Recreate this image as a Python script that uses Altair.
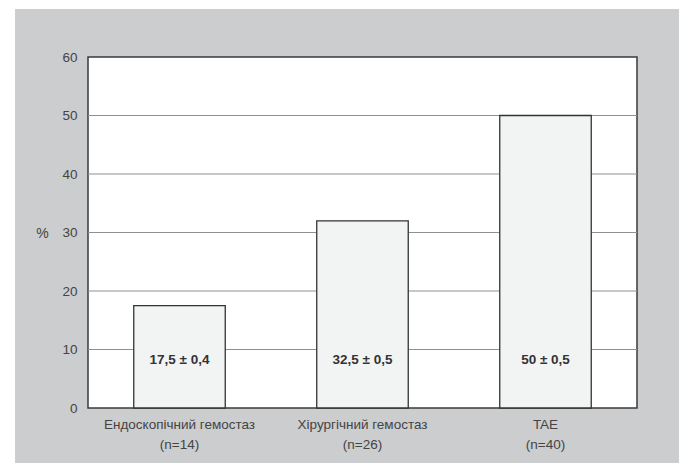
import altair as alt
import pandas as pd

# ---- data ----
groups = ["Ендоскопічний гемостаз", "Хірургічний гемостаз", "TAE"]
n_values = [14, 26, 40]
percent = [17.5, 32, 50]
bar_labels = ["17,5 ± 0,4", "32,5 ± 0,5", "50 ± 0,5"]
y_ticks = [0, 10, 20, 30, 40, 50, 60]
grid_values = [10, 20, 30, 40, 50]

df = pd.DataFrame({
    "group": [f"{g}|(n={n})" for g, n in zip(groups, n_values)],
    "percent": percent,
    "label": bar_labels,
})
grid_df = pd.DataFrame({"percent": grid_values})
one = pd.DataFrame({"a": [0]})

W, H = 549, 351
LEFT, TOP = 88, 57
GREY = "#cccdce"
FONT = "Liberation Sans"

yscale = alt.Scale(domain=[0, 60], nice=False, zero=True)
xscale = alt.Scale(paddingInner=0.5, paddingOuter=0.25)

x_axis = alt.Axis(title=None, labelAngle=0, labelExpr="split(datum.label, '|')",
                  labelFont=FONT, labelFontSize=13.5, labelColor="#444444",
                  labelLineHeight=20, labelPadding=16, labelBaseline="middle",
                  domain=False, ticks=False, grid=False, zindex=2)
y_axis = alt.Axis(title="%", values=y_ticks, titleAngle=0, titleX=-46, titleY=176,
                  titleAlign="center", titleBaseline="middle", titleFont=FONT,
                  titleFontSize=14, titleFontWeight="normal", titleColor="#444444",
                  labelFont=FONT, labelFontSize=13.5, labelColor="#444444",
                  labelPadding=11, domain=False, ticks=False, grid=False, zindex=2)

# decorative grey panel behind the figure
bg = alt.Chart(one).mark_rect(color=GREY).encode(
    x=alt.value(15 - LEFT), x2=alt.value(679 - LEFT + 5),
    y=alt.value(9 - TOP), y2=alt.value(463 - TOP),
)
# white plot panel with border
panel = alt.Chart(one).mark_rect(fill="white", stroke="#3a3a3a", strokeWidth=1.5).encode(
    x=alt.value(0), x2=alt.value(W), y=alt.value(0), y2=alt.value(H),
)
grid = alt.Chart(grid_df).mark_rule(color="#8f8f8f", strokeWidth=1.2).encode(
    y=alt.Y("percent:Q", scale=yscale, axis=y_axis),
)
bars = alt.Chart(df).mark_bar(fill="#f2f3f3", stroke="#333333", strokeWidth=1.3).encode(
    x=alt.X("group:N", sort=None, scale=xscale, axis=x_axis),
    y=alt.Y("percent:Q", scale=yscale, axis=y_axis),
)
texts = alt.Chart(df).mark_text(font=FONT, fontSize=13.5, fontWeight="bold", color="#333333",
                                baseline="middle").encode(
    x=alt.X("group:N", sort=None, scale=xscale, axis=x_axis),
    y=alt.value(H - 48),
    text="label:N",
)

chart = alt.layer(bg, panel, grid, bars, texts).properties(
    width=W, height=H,
    autosize=alt.AutoSizeParams(type="none"),
    padding={"left": LEFT, "top": TOP, "right": 679 - LEFT - W, "bottom": 465 - TOP - H},
    background="white",
).configure_view(stroke=None)

chart.save("out.html", embed_options={"renderer": "svg", "actions": False})
